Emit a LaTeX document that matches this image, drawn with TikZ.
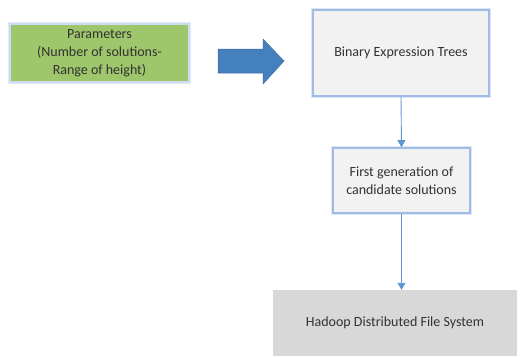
\documentclass[tikz,border=0pt]{standalone}
\usepackage{fontspec}
\setmainfont{Carlito}
\usetikzlibrary{arrows.meta}
\definecolor{boxfill}{RGB}{242,242,242}
\definecolor{boxline}{RGB}{160,188,228}
\definecolor{glow}{RGB}{205,220,242}
\definecolor{greenfill}{RGB}{158,198,106}
\definecolor{arrowblue}{RGB}{68,128,190}
\definecolor{arrowedge}{RGB}{60,110,165}
\definecolor{linkblue}{RGB}{95,150,210}
\definecolor{hdfsfill}{RGB}{216,216,216}
\definecolor{txt}{RGB}{50,50,50}
\begin{document}
\begin{tikzpicture}[x=1pt,y=-1pt,
  every node/.style={font=\fontsize{14}{18}\selectfont, text=txt, align=center, inner sep=0pt},
  procbox/.style={draw=boxline, line width=1.6pt, fill=boxfill, minimum width=#1},
  paramsbox/.style={draw=glow, line width=1.6pt, fill=greenfill},
  hdfsbox/.style={fill=hdfsfill},
  link/.style={draw=linkblue, line width=0.9pt, -{Triangle[length=7pt,width=8pt]}},
  bigarrow/.style={fill=arrowblue, draw=arrowedge, line width=0.5pt}]
\useasboundingbox (0,0) rectangle (526,356);
% glow outlines
\draw[glow, line width=4pt, opacity=0.6] (10,24) rectangle (189,82);
\draw[glow, line width=4pt, opacity=0.7] (313,10) rectangle (489,96);
\draw[glow, line width=4pt, opacity=0.7] (333,148) rectangle (470,213);
% boxes
\node[paramsbox, minimum width=179pt, minimum height=58pt] (params) at (99.5,53)
  {Parameters\\(Number of solutions-\\Range of height)};
\node[procbox=176pt, minimum height=86pt] (bet) at (401,53) {Binary Expression Trees};
\node[procbox=137pt, minimum height=65pt] (first) at (401.5,180.5)
  {First generation of\\candidate solutions};
\node[hdfsbox, minimum width=244pt, minimum height=66pt] (hdfs) at (395,323)
  {Hadoop Distributed File System};
% big block arrow
\filldraw[bigarrow] (218,49) -- (263,49) -- (263,39) -- (284,61) -- (263,84)
  -- (263,73) -- (218,73) -- cycle;
% connectors
\draw[link] (bet.south) -- (first.north);
\draw[link] (first.south) -- (first.south |- hdfs.north);
\end{tikzpicture}
\end{document}
